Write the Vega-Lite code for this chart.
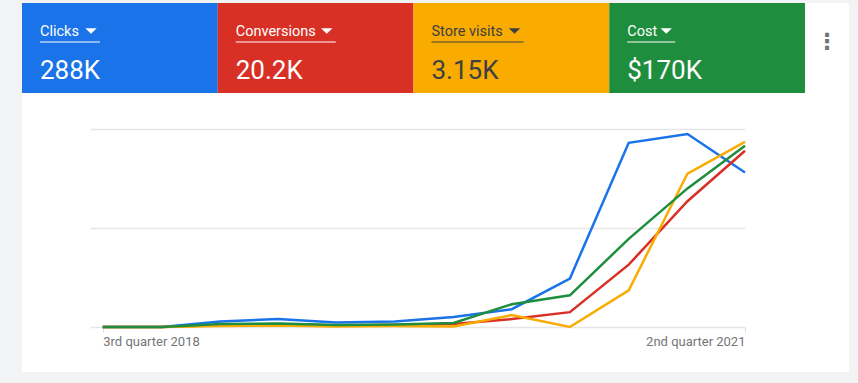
{
  "$schema": "https://vega.github.io/schema/vega-lite/v6.json",
  "background": "#f1f3f4",
  "padding": {"left": 22, "top": 3, "right": 9, "bottom": 11},
  "spacing": 0,
  "config": {"view": {"fill": "#ffffff", "stroke": null}, "concat": {"spacing": 0}},
  "datasets": {
    "tiles": [
      {"metric": "Clicks", "total": "288K"},
      {"metric": "Conversions", "total": "20.2K"},
      {"metric": "Store visits", "total": "3.15K"},
      {"metric": "Cost", "total": "$170K"}
    ],
    "series": [
      {"quarter": "2018-07-01", "Clicks": 0, "Conversions": 0, "Store visits": 0, "Cost": 0},
      {"quarter": "2018-10-01", "Clicks": 0, "Conversions": 0, "Store visits": 0, "Cost": 0},
      {"quarter": "2019-01-01", "Clicks": 5.5, "Conversions": 2, "Store visits": 1, "Cost": 3},
      {"quarter": "2019-04-01", "Clicks": 8, "Conversions": 3, "Store visits": 1.5, "Cost": 3.5},
      {"quarter": "2019-07-01", "Clicks": 4.5, "Conversions": 1.5, "Store visits": 0.5, "Cost": 2},
      {"quarter": "2019-10-01", "Clicks": 5.5, "Conversions": 2, "Store visits": 1, "Cost": 2.5},
      {"quarter": "2020-01-01", "Clicks": 10, "Conversions": 3, "Store visits": 0.5, "Cost": 4},
      {"quarter": "2020-04-01", "Clicks": 18, "Conversions": 8, "Store visits": 12, "Cost": 23},
      {"quarter": "2020-07-01", "Clicks": 49, "Conversions": 15, "Store visits": 0, "Cost": 32},
      {"quarter": "2020-10-01", "Clicks": 186, "Conversions": 63, "Store visits": 37, "Cost": 89},
      {"quarter": "2021-01-01", "Clicks": 195, "Conversions": 127, "Store visits": 155, "Cost": 140},
      {"quarter": "2021-04-01", "Clicks": 156, "Conversions": 178, "Store visits": 187, "Cost": 183}
    ]
  },
  "vconcat": [
    {
      "width": 827,
      "height": 90,
      "data": {"name": "tiles"},
      "layer": [
        {
          "mark": {"type": "rect"},
          "encoding": {
            "x": {"field": "metric", "type": "nominal", "sort": null,
                  "scale": {"domain": ["Clicks", "Conversions", "Store visits", "Cost"], "paddingInner": 0, "paddingOuter": 0.1124, "align": 0},
                  "axis": null},
            "color": {"field": "metric", "type": "nominal",
                      "scale": {"domain": ["Clicks", "Conversions", "Store visits", "Cost"], "range": ["#1a73e8", "#d93025", "#f9ab00", "#1e8e3e"]},
                      "legend": null}
          }
        },
        {
          "mark": {"type": "text", "align": "left", "baseline": "alphabetic", "dx": 18, "dy": -12, "font": "Roboto", "fontSize": 14.5},
          "encoding": {
            "x": {"field": "metric", "type": "nominal", "bandPosition": 0},
            "text": {"field": "metric"},
            "color": {"condition": {"test": "datum.metric === 'Store visits'", "value": "#3c4043"}, "value": "#ffffff"}
          }
        },
        {
          "mark": {"type": "point", "filled": true, "opacity": 1, "strokeWidth": 0,
                   "shape": "M-1,-0.5L1,-0.5L0,0.5Z", "size": 130, "yOffset": -17,
                   "xOffset": {"expr": "29 + 8*length(replace(datum.metric, regexp('[iltr ]','g'), '')) + 4*(length(datum.metric) - length(replace(datum.metric, regexp('[iltr ]','g'), '')))"}},
          "encoding": {
            "x": {"field": "metric", "type": "nominal", "bandPosition": 0},
            "color": {"condition": {"test": "datum.metric === 'Store visits'", "value": "#3c4043"}, "value": "#ffffff"}
          }
        },
        {
          "mark": {"type": "rule", "strokeWidth": 1, "xOffset": 18, "yOffset": -6,
                   "x2Offset": {"expr": "38 + 8*length(replace(datum.metric, regexp('[iltr ]','g'), '')) + 4*(length(datum.metric) - length(replace(datum.metric, regexp('[iltr ]','g'), '')))"}},
          "encoding": {
            "x": {"field": "metric", "type": "nominal", "bandPosition": 0},
            "x2": {"field": "metric", "bandPosition": 0},
            "color": {"condition": {"test": "datum.metric === 'Store visits'", "value": "#3c4043"}, "value": "#ffffff"}
          }
        },
        {
          "mark": {"type": "text", "align": "left", "baseline": "alphabetic", "dx": 18, "dy": 31, "font": "Roboto", "fontSize": 26},
          "encoding": {
            "x": {"field": "metric", "type": "nominal", "bandPosition": 0},
            "text": {"field": "total"},
            "color": {"condition": {"test": "datum.metric === 'Store visits'", "value": "#3c4043"}, "value": "#ffffff"}
          }
        },
        {
          "data": {"values": [{"menu": "⋮"}]},
          "mark": {"type": "text", "align": "center", "baseline": "middle", "dx": -22, "dy": -6, "font": "DejaVu Sans", "fontSize": 22, "fontWeight": "bold", "color": "#6f7378"},
          "encoding": {
            "x": {"value": "width"},
            "text": {"field": "menu"}
          }
        }
      ]
    },
    {
      "width": 827,
      "height": 279,
      "data": {"name": "series"},
      "transform": [{"fold": ["Clicks", "Conversions", "Store visits", "Cost"], "as": ["metric", "value"]}],
      "mark": {"type": "line", "strokeWidth": 2.5},
      "encoding": {
        "x": {
          "field": "quarter", "type": "temporal",
          "scale": {"type": "utc", "domain": [{"year": 2018, "month": 6, "date": 11, "utc": true}, {"year": 2021, "month": 4, "date": 1, "utc": true}], "range": [68, 723]},
          "axis": {
            "orient": "bottom", "offset": -45, "title": null,
            "values": [{"year": 2018, "month": 7, "date": 1, "utc": true}, {"year": 2021, "month": 4, "date": 1, "utc": true}],
            "labelExpr": "['1st','2nd','3rd','4th'][utcquarter(datum.value)-1] + ' quarter ' + utcyear(datum.value)",
            "labelFlush": 15, "labelFont": "Roboto", "labelFontSize": 13, "labelColor": "#757575", "labelPadding": 3,
            "grid": false, "domain": false, "ticks": true, "tickSize": 5, "tickColor": "#dadce0"
          }
        },
        "y": {
          "field": "value", "type": "quantitative",
          "scale": {"domain": [0, 200], "range": [234, 36], "nice": false},
          "axis": {"values": [0, 100, 200], "grid": true, "gridColor": "#e6e6e6", "gridWidth": 1.5, "labels": false, "ticks": false, "domain": false, "title": null}
        },
        "color": {"field": "metric", "type": "nominal",
                  "scale": {"domain": ["Clicks", "Conversions", "Store visits", "Cost"], "range": ["#1a73e8", "#d93025", "#f9ab00", "#1e8e3e"]},
                  "legend": null}
      }
    }
  ]
}
